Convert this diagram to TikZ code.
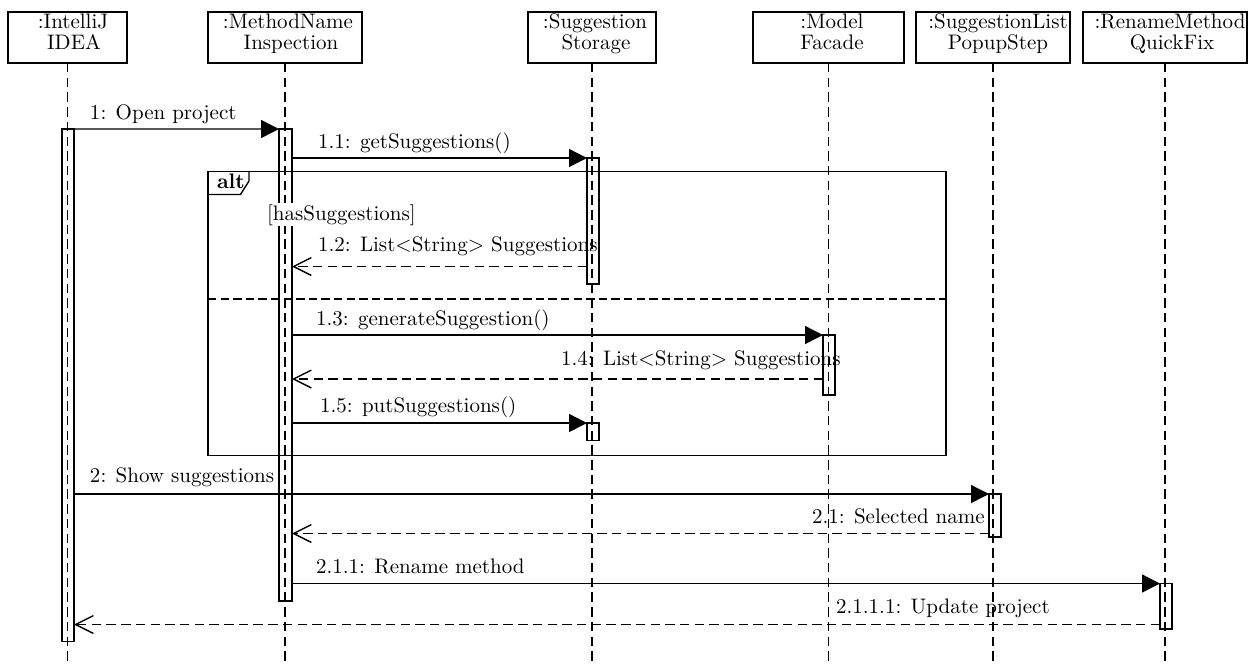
\documentclass[tikz,border=0pt]{standalone}
\usetikzlibrary{arrows.meta,fit}
\begin{document}
\begin{tikzpicture}[x=0.476pt,y=-0.476pt,
  every node/.style={inner sep=0pt, outer sep=0pt},
  hdr/.style={draw, line width=0.65pt, rectangle},
  actbar/.style={draw, line width=0.65pt, rectangle},
  hl/.style={anchor=base},
  msglbl/.style={anchor=base west},
  life/.style={line width=0.6pt, dash pattern=on 4.5pt off 2.5pt},
  callmsg/.style={line width=0.65pt, -{Triangle[length=8.5pt,width=8.5pt]}},
  retmsg/.style={line width=0.65pt, dash pattern=on 4.5pt off 2.5pt, -{Straight Barb[length=8.5pt,width=8.5pt]}},
  frame/.style={line width=0.65pt},
]
\path[use as bounding box] (0,0) rectangle (1248,665);

% header boxes
\node[hdr, fit={(8,12) (127,63)}] (h1) {};
\node[hdr, fit={(208,12) (362,63)}] (h2) {};
\node[hdr, fit={(528,12) (656,63)}] (h3) {};
\node[hdr, fit={(753,12) (904,63)}] (h4) {};
\node[hdr, fit={(916,12) (1070,63)}] (h5) {};
\node[hdr, fit={(1083,12) (1247,63)}] (h6) {};

\node[hl] (t1a) at (73,28.5) {:IntelliJ};
\node[hl] (t1b) at (74,49.5) {IDEA};
\node[hl] (t2a) at (288,28.5) {:MethodName};
\node[hl] (t2b) at (291,49.5) {Inspection};
\node[hl] (t3a) at (595,28.5) {:Suggestion};
\node[hl] (t3b) at (596,49.5) {Storage};
\node[hl] (t4a) at (832,28.5) {:Model};
\node[hl] (t4b) at (832,49.5) {Facade};
\node[hl] (t5a) at (998,28.5) {:SuggestionList};
\node[hl] (t5b) at (998,49.5) {PopupStep};
\node[hl] (t6a) at (1170,28.5) {:RenameMethod};
\node[hl] (t6b) at (1172,49.5) {QuickFix};

% lifeline ends
\coordinate (bottom) at (0,665);
\foreach \h in {h1,h2,h3,h4,h5,h6}{
  \draw[life] (\h.south) -- (\h.south |- bottom);
}

% alt frame
\node[frame, draw, fit={(208,171.5) (946,455.5)}] (alt) {};
\coordinate (tabA) at (208,194.5);
\coordinate (tabB) at (240.5,194.5);
\coordinate (tabC) at (249,181);
\coordinate (tabD) at (249,171.5);
\draw[frame] (tabA) -- (tabB) -- (tabC) -- (tabD);
\node[hl, anchor=base west] (altlbl) at (217,188) {\textbf{alt}};
\coordinate (sepy) at (0,299);
\draw[frame, dash pattern=on 4pt off 2pt] (alt.west |- sepy) -- (alt.east |- sepy);

% activation bars
\node[actbar, fit={(62,129) (74,641.5)}] (a1) {};
\node[actbar, fit={(279,129) (292,601)}] (a2) {};
\node[actbar, fit={(587,158) (599,284)}] (a3) {};
\node[actbar, fit={(823,335) (835,395)}] (a4) {};
\node[actbar, fit={(587,423) (599,440.5)}] (a5) {};
\node[actbar, fit={(989,494) (1001,537)}] (a6) {};
\node[actbar, fit={(1160,583.5) (1172,629)}] (a7) {};

% guard
\node[msglbl, fill=white, inner xsep=0.5pt, inner ysep=0.5pt] (guard) at (266,220) {[hasSuggestions]};

% messages
\draw[callmsg] (a1.north east) -- (a2.north west);
\node[msglbl] (l1) at (90,119) {1: Open project};

\draw[callmsg] (a2.east |- a3.north) -- (a3.north west);
\node[msglbl] (l11) at (318,148) {1.1: getSuggestions()};

\coordinate (r12) at (0,266.5);
\draw[retmsg] (a3.west |- r12) -- (a2.east |- r12);
\node[msglbl] (l12) at (318,251.5) {1.2: List$<$String$>$ Suggestions};

\draw[callmsg] (a2.east |- a4.north) -- (a4.north west);
\node[msglbl] (l13) at (316,325) {1.3: generateSuggestion()};

\coordinate (r14) at (0,379);
\draw[retmsg] (a4.west |- r14) -- (a2.east |- r14);
\node[msglbl] (l14) at (561,365) {1.4: List$<$String$>$ Suggestions};

\draw[callmsg] (a2.east |- a5.north) -- (a5.north west);
\node[msglbl] (l15) at (320,412) {1.5: putSuggestions()};

\draw[callmsg] (a1.east |- a6.north) -- (a6.north west);
\node[msglbl] (l2) at (90,482.5) {2: Show suggestions};

\coordinate (r21) at (0,533.5);
\draw[retmsg] (a6.west |- r21) -- (a2.east |- r21);
\node[msglbl] (l21) at (812,523) {2.1: Selected name};

\draw[callmsg] (a2.east |- a7.north) -- (a7.north west);
\node[msglbl] (l211) at (316,573.5) {2.1.1: Rename method};

\coordinate (r2111) at (0,624.5);
\draw[retmsg] (a7.west |- r2111) -- (a1.east |- r2111);
\node[msglbl] (l2111) at (836,613) {2.1.1.1: Update project};
\end{tikzpicture}
\end{document}
